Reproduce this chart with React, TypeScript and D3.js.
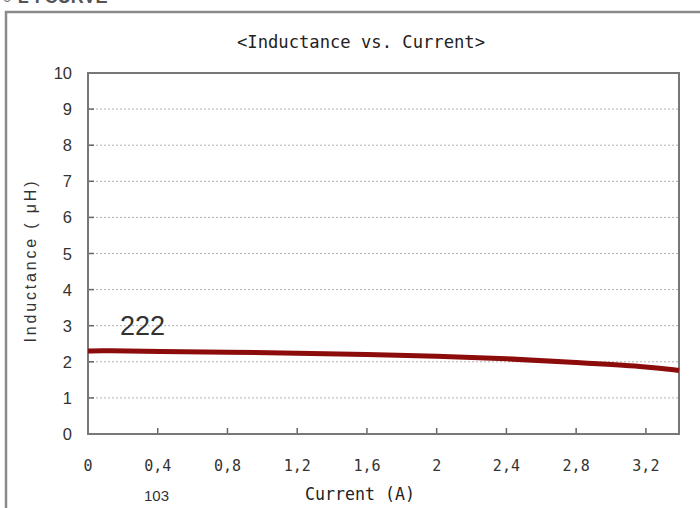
import React from "react";
import * as d3 from "d3";

const currents = [0, 0.1, 0.4, 0.8, 1.2, 1.6, 2.0, 2.4, 2.8, 3.2, 3.39];
const inductance = [2.3, 2.31, 2.28, 2.27, 2.24, 2.2, 2.16, 2.09, 1.98, 1.87, 1.76];
const xTicks = [0, 0.4, 0.8, 1.2, 1.6, 2, 2.4, 2.8, 3.2];
const xTickLabels = ["0", "0,4", "0,8", "1,2", "1,6", "2", "2,4", "2,8", "3,2"];
const yTicks = [0, 1, 2, 3, 4, 5, 6, 7, 8, 9, 10];
const partLabel = "222";
const bottomNote = "103";
const title = "<Inductance vs. Current>";
const xTitle = "Current (A)";
const yTitle = "Inductance ( \u03bcH)";
const heading = "\u25cb L-I CURVE";

const W = 700;
const H = 508;
const plot = { left: 88, top: 73, right: 679, bottom: 434 };

export default function App() {
  const x = d3.scaleLinear().domain([0, 3.39]).range([plot.left, plot.right]);
  const y = d3.scaleLinear().domain([0, 10]).range([plot.bottom, plot.top]);
  const pts: [number, number][] = currents.map((c, i) => [c, inductance[i]]);
  const line = d3
    .line<[number, number]>()
    .x((d) => x(d[0]))
    .y((d) => y(d[1]))
    .curve(d3.curveBasis);
  const mono = "'DejaVu Sans Mono', monospace";
  const sans = "'Liberation Sans', Arial, sans-serif";
  return (
    <svg
      width={W}
      height={H}
      style={{ position: "absolute", left: 0, top: 0, background: "#fff" }}
    >
      <rect x={0} y={0} width={W} height={H} fill="#fff" />
      <text x={2} y={3} fontFamily={sans} fontSize={18} fontWeight="bold" fill="#555">
        {heading}
      </text>
      <rect x={6} y={12} width={720} height={520} fill="none" stroke="#8a8a8a" strokeWidth={2.5} />
      <text x={361} y={48} textAnchor="middle" fontFamily={mono} fontSize={17} fill="#222" textLength={248} lengthAdjust="spacingAndGlyphs">
        {title}
      </text>
      {yTicks.filter((t) => t > 0 && t < 10).map((t) => (
        <line key={"g" + t} x1={plot.left} x2={plot.right} y1={y(t)} y2={y(t)} stroke="#b0b0b0" strokeWidth={1} strokeDasharray="2,2" />
      ))}
      {yTicks.map((t) => (
        <g key={"y" + t}>
          <line x1={plot.left} x2={plot.left + 6} y1={y(t)} y2={y(t)} stroke="#666" strokeWidth={1.5} />
          <text x={72} y={y(t) + 6} textAnchor="end" fontFamily={sans} fontSize={16.5} fill="#333">
            {t}
          </text>
        </g>
      ))}
      {xTicks.map((t, i) => (
        <g key={"x" + t}>
          <line x1={x(t)} x2={x(t)} y1={plot.bottom} y2={plot.bottom - 6} stroke="#666" strokeWidth={1.5} />
          <text x={x(t)} y={471} textAnchor="middle" fontFamily={mono} fontSize={15} fill="#333">
            {xTickLabels[i]}
          </text>
        </g>
      ))}
      <rect x={plot.left} y={plot.top} width={plot.right - plot.left} height={plot.bottom - plot.top} fill="none" stroke="#777" strokeWidth={2} />
      <path d={line(pts) || ""} fill="none" stroke="#8c0b0b" strokeWidth={5} strokeLinecap="butt" />
      <text x={120} y={335} fontFamily={sans} fontSize={27} fill="#333">
        {partLabel}
      </text>
      <text x={144} y={501} fontFamily={sans} fontSize={15} fill="#333">
        {bottomNote}
      </text>
      <text x={360} y={500} textAnchor="middle" fontFamily={mono} fontSize={17} fill="#222" textLength={110} lengthAdjust="spacingAndGlyphs">
        {xTitle}
      </text>
      <text
        transform={`translate(36,262) rotate(-90)`}
        textAnchor="middle"
        fontFamily={sans}
        fontSize={16}
        fill="#333"
        textLength={161}
        lengthAdjust="spacing"
      >
        {yTitle}
      </text>
    </svg>
  );
}
